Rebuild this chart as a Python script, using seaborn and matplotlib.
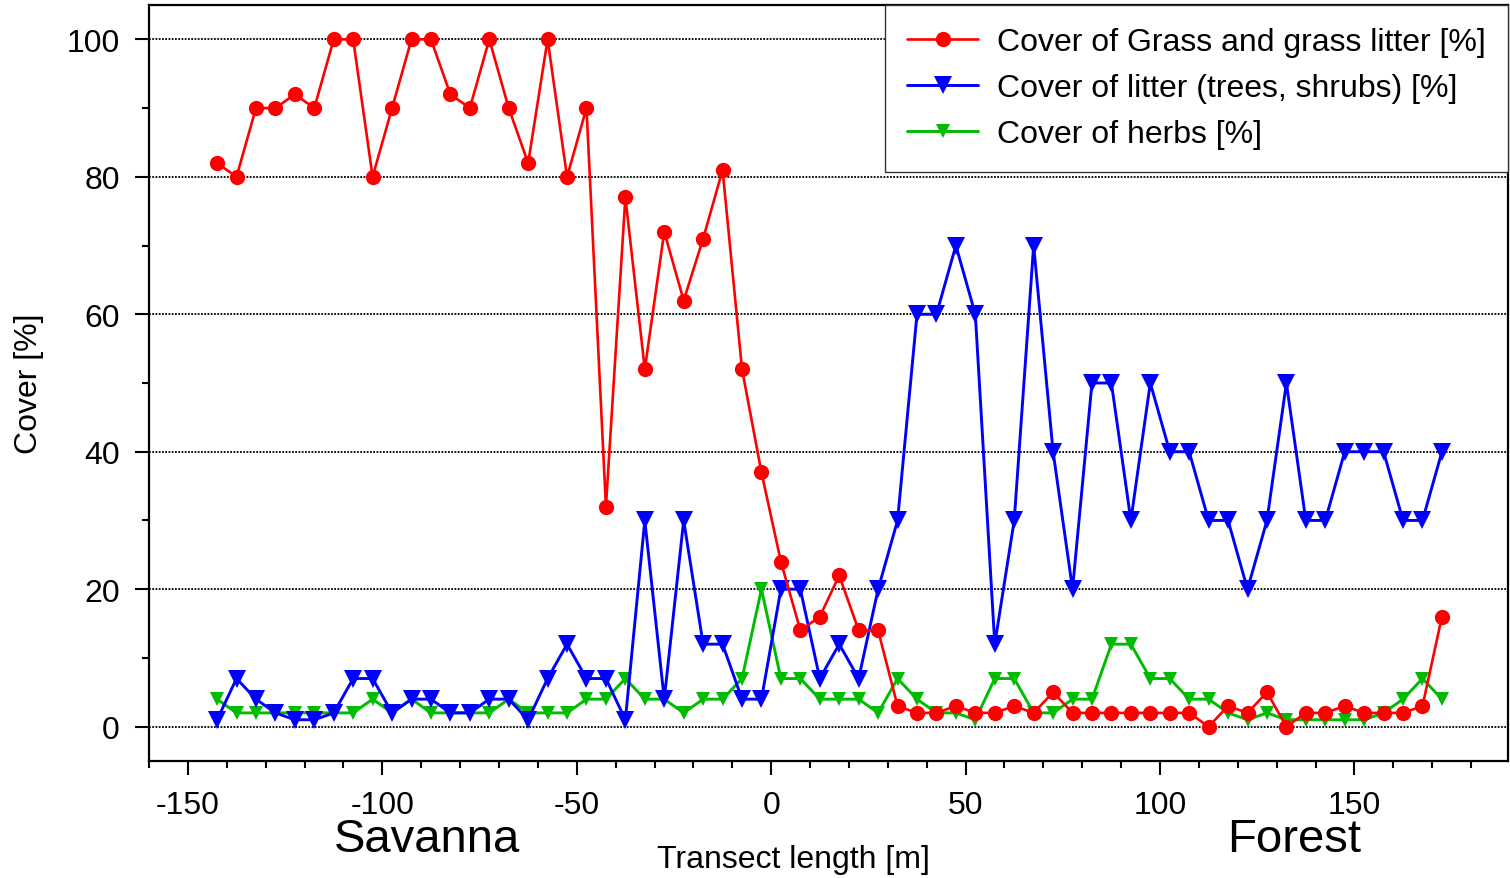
import numpy as np
import pandas as pd
import matplotlib
matplotlib.use("Agg")
import matplotlib.pyplot as plt
import seaborn as sns

# transect positions [m]
transect_m = [-142.5, -137.5, -132.5, -127.5, -122.5, -117.5, -112.5, -107.5, -102.5, -97.5,
              -92.5, -87.5, -82.5, -77.5, -72.5, -67.5, -62.5, -57.5, -52.5, -47.5,
              -42.5, -37.5, -32.5, -27.5, -22.5, -17.5, -12.5, -7.5, -2.5, 2.5,
              7.5, 12.5, 17.5, 22.5, 27.5, 32.5, 37.5, 42.5, 47.5, 52.5,
              57.5, 62.5, 67.5, 72.5, 77.5, 82.5, 87.5, 92.5, 97.5, 102.5,
              107.5, 112.5, 117.5, 122.5, 127.5, 132.5, 137.5, 142.5, 147.5, 152.5,
              157.5, 162.5, 167.5, 172.5]

grass_cover = [82, 80, 90, 90, 92, 90, 100, 100, 80, 90,
               100, 100, 92, 90, 100, 90, 82, 100, 80, 90,
               32, 77, 52, 72, 62, 71, 81, 52, 37, 24,
               14, 16, 22, 14, 14, 3, 2, 2, 3, 2,
               2, 3, 2, 5, 2, 2, 2, 2, 2, 2,
               2, 0, 3, 2, 5, 0, 2, 2, 3, 2,
               2, 2, 3, 16]

litter_cover = [1, 7, 4, 2, 1, 1, 2, 7, 7, 2,
                4, 4, 2, 2, 4, 4, 1, 7, 12, 7,
                7, 1, 30, 4, 30, 12, 12, 4, 4, 20,
                20, 7, 12, 7, 20, 30, 60, 60, 70, 60,
                12, 30, 70, 40, 20, 50, 50, 30, 50, 40,
                40, 30, 30, 20, 30, 50, 30, 30, 40, 40,
                40, 30, 30, 40]

herb_cover = [4, 2, 2, 2, 2, 2, 2, 2, 4, 2,
              4, 2, 2, 2, 2, 4, 2, 2, 2, 4,
              4, 7, 4, 4, 2, 4, 4, 7, 20, 7,
              7, 4, 4, 4, 2, 7, 4, 2, 2, 1,
              7, 7, 2, 2, 4, 4, 12, 12, 7, 7,
              4, 4, 2, 1, 2, 1, 1, 1, 1, 1,
              2, 4, 7, 4]

labels = ["Cover of Grass and grass litter [%]",
          "Cover of litter (trees, shrubs) [%]",
          "Cover of herbs [%]"]

df = pd.DataFrame({"x": transect_m, "grass": grass_cover,
                   "litter": litter_cover, "herbs": herb_cover})

sns.set_style("ticks")
plt.rcParams['font.family'] = ['Liberation Sans', 'DejaVu Sans']
plt.rcParams['font.size'] = 23
plt.rcParams['axes.unicode_minus'] = False
plt.rcParams['text.color'] = 'black'
plt.rcParams['axes.labelcolor'] = 'black'
plt.rcParams['xtick.color'] = 'black'
plt.rcParams['ytick.color'] = 'black'

fig = plt.figure(figsize=(15.1, 8.79), dpi=100)
ax = fig.add_axes([0.0987, 0.1331, 0.9000, 0.8601])

sns.lineplot(data=df, x="x", y="grass", ax=ax, color="#ff0000", marker="o",
             markersize=11, markeredgewidth=0, linewidth=1.9, label=labels[0],
             estimator=None, errorbar=None, zorder=4)
sns.lineplot(data=df, x="x", y="litter", ax=ax, color="#0000ff", marker="v",
             markersize=13, markeredgewidth=0, linewidth=2.1, label=labels[1],
             estimator=None, errorbar=None, zorder=3)
sns.lineplot(data=df, x="x", y="herbs", ax=ax, color="#00bb00", marker="v",
             markersize=10, markeredgewidth=0, linewidth=2.1, label=labels[2],
             estimator=None, errorbar=None, zorder=2)

ax.set_xlim(-160, 189.5)
ax.set_ylim(-5, 105)
ax.set_xticks([-150, -100, -50, 0, 50, 100, 150])
ax.set_xticks(np.arange(-160, 190, 10), minor=True)
ax.set_yticks([0, 20, 40, 60, 80, 100])
ax.set_yticks([10, 30, 50, 70, 90], minor=True)
ax.tick_params(which="major", direction="out", length=10, width=1.5, pad=11, labelsize=23)
ax.tick_params(which="minor", direction="out", length=5, width=1.5)
ax.yaxis.grid(True, which="major", color="black", linestyle=(0, (1, 0.8)), linewidth=1.3)
ax.set_axisbelow(True)
for sp in ax.spines.values():
    sp.set_linewidth(1.6)
    sp.set_color("black")

ax.set_xlabel("Transect length [m]", fontsize=23)
ax.xaxis.set_label_coords(0.474, -0.140)
ax.xaxis.label.set_va("baseline")
ax.set_ylabel("Cover [%]", fontsize=23)
ax.yaxis.set_label_coords(-0.077, 0.5)

fig.text(427 / 1510, 1 - 852 / 879, "Savanna", fontsize=34, ha="center", va="baseline")
fig.text(1294 / 1510, 1 - 852 / 879, "Forest", fontsize=34, ha="center", va="baseline")

leg = ax.legend(loc="upper right", bbox_to_anchor=(1.0, 1.0), borderaxespad=0,
                fontsize=23, frameon=True, fancybox=False, handlelength=2.2,
                handletextpad=0.6, labelspacing=0.5, borderpad=0.7)
leg.get_frame().set_edgecolor("#333333")
leg.get_frame().set_linewidth(1.0)
leg.get_frame().set_alpha(1)

fig.savefig("out.png", dpi=100)
